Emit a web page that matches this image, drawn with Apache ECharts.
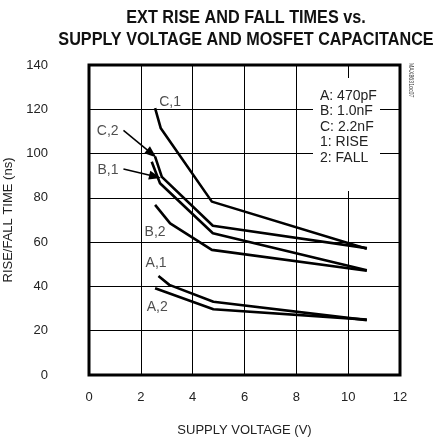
<!DOCTYPE html>
<html>
<head>
<meta charset="utf-8">
<script src="https://cdn.jsdelivr.net/npm/echarts@6/dist/echarts.min.js"></script>
<style>
  html, body { margin: 0; padding: 0; background: #fff; }
  #chart { width: 436px; height: 441px; }
</style>
</head>
<body>
<div id="chart"></div>
<script>
// curve points: [supply voltage (V), time (ns)]
const curveA1 = [[2.68, 44.7], [3.1, 40.7], [4.8, 33.1], [10.72, 24.8]]
const curveA2 = [[2.55, 39.2], [4.8, 29.7], [10.72, 25]]
const curveB1 = [[2.42, 96.3], [2.74, 86.6], [4.78, 64], [10.72, 47.3]]
const curveB2 = [[2.55, 76.8], [3.13, 68.5], [4.74, 56.5], [10.72, 47.1]]
const curveC1 = [[2.55, 120.5], [2.77, 111.4], [4.74, 78.3], [10.72, 57]]
const curveC2 = [[2.55, 98.6], [2.81, 89.5], [4.78, 67.4], [10.72, 57.3]]

// curve tags: [x, y, text]
const curveTags = [
  [3.13, 123.3, 'C,1'],
  [0.72, 110, 'C,2'],
  [0.73, 92.6, 'B,1'],
  [2.55, 64.6, 'B,2'],
  [2.59, 50.6, 'A,1'],
  [2.63, 30.7, 'A,2']
]
// pointer arrows: [from, to]
const pointers = [
  [[1.33, 110.5], [2.42, 100]],
  [[1.33, 93], [2.55, 89.6]]
]

const legendLines = ['A: 470pF', 'B: 1.0nF', 'C: 2.2nF', '1: RISE', '2: FALL']

const fontMain = '"Liberation Sans", Arial, sans-serif'

const chart = echarts.init(document.getElementById('chart'))

const curveSeries = (data) => ({
  type: 'line',
  data: data,
  symbol: 'none',
  lineStyle: { color: '#000', width: 2.6 },
  z: 3
})

chart.setOption({
  animation: false,
  grid: {
    left: 89,
    right: 36,
    top: 65,
    bottom: 66,
    outerBoundsMode: 'none',
    containLabel: false,
    show: true,
    borderColor: '#000',
    borderWidth: 3
  },
  xAxis: {
    type: 'value',
    min: 0,
    max: 12,
    interval: 2,
    name: 'SUPPLY VOLTAGE (V)',
    nameLocation: 'middle',
    nameGap: 49,
    nameTextStyle: { fontFamily: fontMain, fontSize: 13, color: '#222' },
    axisLine: { show: false },
    axisTick: { show: false },
    axisLabel: { margin: 16, fontFamily: fontMain, fontSize: 13, color: '#222' },
    splitLine: { lineStyle: { color: '#000', width: 1 } }
  },
  yAxis: {
    type: 'value',
    min: 0,
    max: 140,
    interval: 20,
    name: 'RISE/FALL TIME (ns)',
    nameLocation: 'middle',
    nameGap: 61,
    nameTextStyle: { fontFamily: fontMain, fontSize: 13, color: '#222' },
    axisLine: { show: false },
    axisTick: { show: false },
    axisLabel: { margin: 41, fontFamily: fontMain, fontSize: 13, color: '#222' },
    splitLine: { lineStyle: { color: '#000', width: 1 } }
  },
  graphic: [
    {
      type: 'text',
      x: 246,
      y: 7,
      scaleX: 0.9,
      style: {
        text: 'EXT RISE AND FALL TIMES vs.\nSUPPLY VOLTAGE AND MOSFET CAPACITANCE',
        textAlign: 'center',
        fontFamily: fontMain,
        fontWeight: 'bold',
        fontSize: 18,
        lineHeight: 22,
        fill: '#111'
      }
    },
    {
      type: 'rect',
      shape: { x: 313, y: 78, width: 67, height: 113 },
      style: { fill: '#fff' },
      z: 10
    },
    ...legendLines.map((t, i) => ({
      type: 'text',
      x: 320,
      y: 89 + i * 15.5,
      style: {
        text: t,
        fontFamily: fontMain,
        fontSize: 14,
        fill: '#222'
      },
      z: 11
    })),
    {
      type: 'text',
      x: 411,
      y: 63,
      rotation: -Math.PI / 2,
      scaleX: 0.75,
      style: {
        text: 'MAX8631oc07',
        textVerticalAlign: 'middle',
        fontFamily: fontMain,
        fontSize: 7,
        fill: '#444'
      },
      z: 11
    }
  ],
  series: [
    curveSeries(curveA1),
    curveSeries(curveA2),
    curveSeries(curveB1),
    curveSeries(curveB2),
    curveSeries(curveC1),
    curveSeries(curveC2),
    {
      type: 'scatter',
      data: curveTags,
      symbolSize: 0,
      label: {
        show: true,
        position: 'inside',
        formatter: p => p.data[2],
        fontFamily: fontMain,
        fontSize: 14,
        color: '#222'
      },
      z: 4
    },
    {
      type: 'line',
      data: [],
      markLine: {
        silent: true,
        symbol: ['none', 'triangle'],
        symbolSize: [9, 12],
        lineStyle: { color: '#000', width: 1.5, type: 'solid' },
        label: { show: false },
        data: pointers.map(p => [{ coord: p[0] }, { coord: p[1] }])
      }
    }
  ]
})
</script>
</body>
</html>
